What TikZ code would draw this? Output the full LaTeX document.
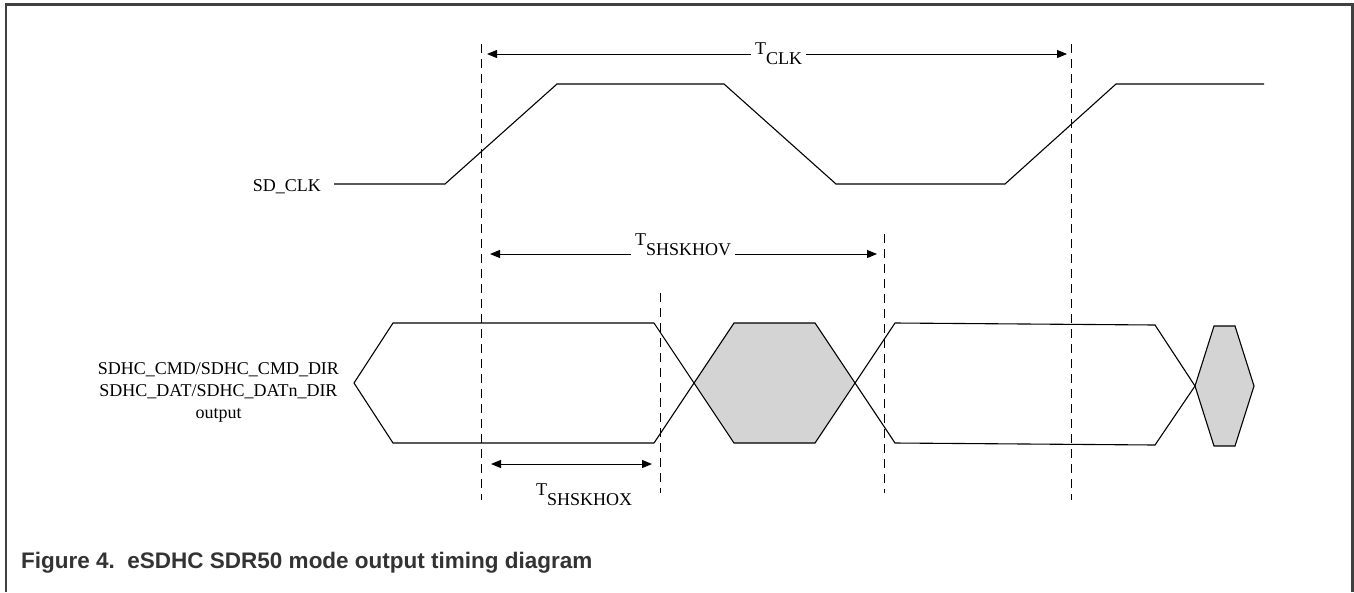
\documentclass[tikz,border=0pt]{standalone}
\usepackage{fontspec}
\setmainfont{Liberation Serif}
\newfontfamily\capfont{Liberation Sans}
\usepackage{tikz}
\usetikzlibrary{arrows.meta}
\newcommand{\tlow}[1]{T\raisebox{-10pt}{#1}}

\begin{document}
\begin{tikzpicture}[x=1pt,y=-1pt,
  wave/.style={line width=1.1pt},
  guide/.style={line width=1pt,dash pattern=on 9pt off 6pt},
  tarrow/.style={line width=1pt,-{Triangle[length=10pt,width=8pt]}},
  busfill/.style={fill=black!17},
  lbl/.style={inner sep=0pt,font=\fontsize{18}{22}\selectfont},
  tlbl/.style={lbl,inner xsep=4pt,anchor=base west}]
\useasboundingbox (0,0) rectangle (1354,592);
\draw[line width=2.5pt,black!75] (6,592) -- (6,4.5) -- (1352.5,4.5) -- (1352.5,592);

% SD_CLK
\node[lbl,anchor=base east] (sdclk) at (321,191) {SD\_CLK};
\draw[wave] (334,184) -- (445,184) -- (557,84) -- (724,84) -- (836,184)
  -- (1005,184) -- (1116,84) -- (1264,84);

% output bus
\node[lbl,align=center,anchor=base] (datlbl) at (218.5,418)
  {SDHC\_CMD/SDHC\_CMD\_DIR\\SDHC\_DAT/SDHC\_DATn\_DIR\\output};
\fill[busfill] (694,383) -- (734,323) -- (815,323) -- (854,383) -- (815,443) -- (734,443) -- cycle;
\fill[busfill] (1195,386) -- (1214,326) -- (1235,326) -- (1254,386) -- (1235,446) -- (1214,446) -- cycle;
\draw[wave] (654,323) -- (393,323) -- (354,383) -- (393,443) -- (654,443);
\draw[wave] (654,323) -- (734,443) -- (815,443) -- (895,323) -- (1155,325) -- (1195,386) -- (1155,445) -- (895,443)
  -- (815,323) -- (734,323) -- (654,443);
\draw[wave] (1195,386) -- (1214,326) -- (1235,326) -- (1254,386) -- (1235,446) -- (1214,446) -- cycle;

% guides
\draw[guide] (481,44) -- (481,500);
\draw[guide] (660,293) -- (660,493);
\draw[guide] (884,234) -- (884,493);
\draw[guide] (1071,44) -- (1071,500);

% timing arrows
\coordinate (clkL) at (487,54);
\coordinate (clkR) at (1067,54);
\coordinate (hovL) at (490,254);
\coordinate (hovR) at (877,254);
\coordinate (hoxL) at (491,464);
\coordinate (hoxR) at (652,464);
\node[tlbl] (tclk) at (751,54) {\tlow{CLK}};
\node[tlbl] (thov) at (631,245) {\tlow{SHSKHOV}};
\node[lbl,anchor=base west] (thox) at (536,495) {\tlow{SHSKHOX}};
\draw[tarrow] (tclk.west |- clkL) -- (clkL);
\draw[tarrow] (tclk.east |- clkR) -- (clkR);
\draw[tarrow] (thov.west |- hovL) -- (hovL);
\draw[tarrow] (thov.east |- hovR) -- (hovR);
\draw[line width=1pt,{Triangle[length=10pt,width=8pt]}-{Triangle[length=10pt,width=8pt]}] (hoxL) -- (hoxR);

\node[anchor=base west,inner sep=0pt,text=black!80,font=\capfont\bfseries\fontsize{22.5}{27}\selectfont] (cap)
  at (21,568) {Figure 4.\ \ eSDHC SDR50 mode output timing diagram};
\end{tikzpicture}
\end{document}
